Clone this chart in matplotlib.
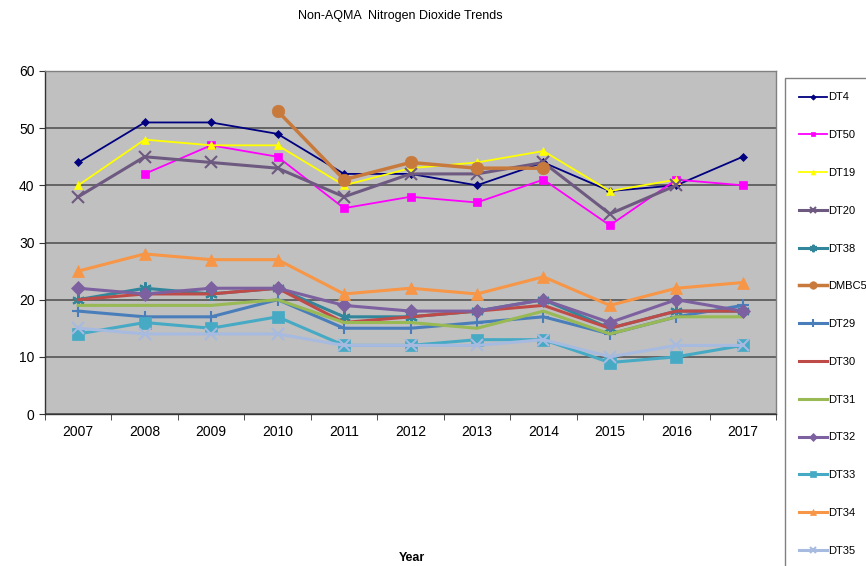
import numpy as np
import matplotlib
matplotlib.use('Agg')
import matplotlib.pyplot as plt

plt.rcParams['font.family'] = ['Liberation Sans', 'DejaVu Sans']

nan = np.nan
years = ['2007', '2008', '2009', '2010', '2011', '2012', '2013', '2014', '2015', '2016', '2017']

dt4 = [44, 51, 51, 49, 42, 42, 40, 44, 39, 40, 45]
dt50 = [nan, 42, 47, 45, 36, 38, 37, 41, 33, 41, 40]
dt19 = [40, 48, 47, 47, 40, 43, 44, 46, 39, 41, nan]
dt20 = [38, 45, 44, 43, 38, 42, 42, 44, 35, 40, nan]
dt38 = [20, 22, 21, 22, 17, 17, 18, 20, 15, 18, 18]
dmbc50 = [nan, nan, nan, 53, 41, 44, 43, 43, nan, nan, nan]
dt29 = [18, 17, 17, 20, 15, 15, 16, 17, 14, 17, 19]
dt30 = [20, 21, 21, 22, 16, 17, 18, 19, 15, 18, 18]
dt31 = [19, 19, 19, 20, 16, 16, 15, 18, 14, 17, 17]
dt32 = [22, 21, 22, 22, 19, 18, 18, 20, 16, 20, 18]
dt33 = [14, 16, 15, 17, 12, 12, 13, 13, 9, 10, 12]
dt34 = [25, 28, 27, 27, 21, 22, 21, 24, 19, 22, 23]
dt35 = [15, 14, 14, 14, 12, 12, 12, 13, 10, 12, 12]

# name, values, colour, marker, markersize, linewidth
series = [
    ('DT4', dt4, '#000080', 'D', 4.5, 1.3),
    ('DT50', dt50, '#FF00FF', 's', 5.5, 1.3),
    ('DT19', dt19, '#FFFF00', '^', 6, 1.3),
    ('DT20', dt20, '#6E5A80', 'x', 8, 2.2),
    ('DT38', dt38, '#31869B', (6, 2, 0), 9, 2.2),
    ('DMBC50', dmbc50, '#C87A3C', 'o', 9, 2.5),
    ('DT29', dt29, '#4A7EBB', '+', 9, 2.2),
    ('DT30', dt30, '#BE4B48', None, 0, 2.2),
    ('DT31', dt31, '#98B954', None, 0, 2.2),
    ('DT32', dt32, '#7D60A0', 'D', 7, 2.2),
    ('DT33', dt33, '#46AAC5', 's', 8, 2.2),
    ('DT34', dt34, '#F79646', '^', 8, 2.2),
    ('DT35', dt35, '#A7BADF', 'x', 8, 2.2),
]

fig = plt.figure(figsize=(8.66, 5.66), dpi=100)
ax = fig.add_axes([45 / 866, 1 - 414 / 566, 731 / 866, 343 / 566])
ax.set_facecolor('#C0C0C0')

x = np.arange(len(years))
handles = []
for name, vals, col, mk, ms, lw in series:
    h, = ax.plot(x, vals, color=col, marker=mk, markersize=ms, linewidth=lw,
                 markeredgewidth=1.5 if mk in ('x', '+', (6, 2, 0)) else 0.5,
                 markeredgecolor=col, label=name)
    handles.append(h)

ax.set_xlim(-0.5, len(years) - 0.5)
ax.set_ylim(0, 60)
ax.set_yticks(range(0, 61, 10))
ax.yaxis.grid(True, color='#555555', linewidth=1.2)
ax.set_axisbelow(True)
ax.set_xticks(x)
ax.set_xticklabels(years, fontsize=10)
ax.set_xticks(np.arange(-0.5, len(years), 1), minor=True)
ax.tick_params(axis='x', which='major', length=0, pad=8)
ax.tick_params(axis='x', which='minor', length=4, color='#333333')
ax.tick_params(axis='y', labelsize=10, length=4, color='#333333')
for s in ['left', 'bottom']:
    ax.spines[s].set_color('#333333')
    ax.spines[s].set_linewidth(1.0)
for s in ['top', 'right']:
    ax.spines[s].set_color('#808080')
    ax.spines[s].set_linewidth(1.0)

fig.text(400 / 866, 1 - 16 / 566, 'Non-AQMA  Nitrogen Dioxide Trends', ha='center', va='center', fontsize=9)
fig.text(412 / 866, 1 - 558 / 566, 'Year', ha='center', va='center', fontsize=9, fontweight='bold')

leg = fig.legend(handles=handles, loc='upper left', bbox_to_anchor=(785 / 866, 1 - 78 / 566),
                 fontsize=8, labelspacing=2.5, handlelength=2.5, handletextpad=0.1,
                 borderpad=1.3, borderaxespad=0, fancybox=False, frameon=True,
                 edgecolor='#808080', framealpha=1, markerscale=0.6)
leg.get_frame().set_linewidth(1.0)

fig.savefig('out.png', dpi=100)
